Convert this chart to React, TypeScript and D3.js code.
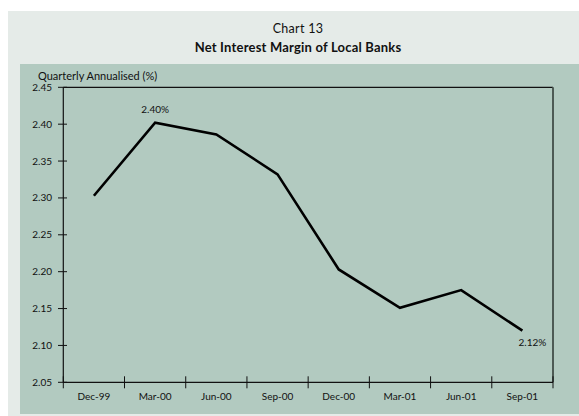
import React from "react";
import * as d3 from "d3";

const categories = ["Dec-99", "Mar-00", "Jun-00", "Sep-00", "Dec-00", "Mar-01", "Jun-01", "Sep-01"];
const values = [2.303, 2.402, 2.386, 2.332, 2.203, 2.151, 2.175, 2.12];
const yTicks = [2.05, 2.1, 2.15, 2.2, 2.25, 2.3, 2.35, 2.4, 2.45];
const annotations = [
  { index: 1, text: "2.40%" },
  { index: 7, text: "2.12%" },
];

const W = 579;
const H = 416;
const plot = { left: 63.3, right: 553, top: 87.3, bottom: 382.3 };
const FONT = "Lato, 'Open Sans', sans-serif";

export default function App() {
  const x = d3.scaleBand<string>().domain(categories).range([plot.left, plot.right]).padding(0);
  const y = d3.scaleLinear().domain([2.05, 2.45]).range([plot.bottom, plot.top]);
  const line = d3
    .line<number>()
    .x((_, i) => (x(categories[i]) as number) + x.bandwidth() / 2)
    .y((d) => y(d));

  const boundaries = categories.map((c) => x(c) as number).concat([plot.right]);

  return (
    <svg
      width={W}
      height={H}
      style={{ position: "absolute", left: 0, top: 0, display: "block" }}
      fontFamily={FONT}
    >
      <rect x={0} y={0} width={W} height={H} fill="#ffffff" />
      <rect x={8} y={11} width={W - 8} height={H - 11} fill="#e5ebe8" />
      <rect x={20} y={64} width={W - 20} height={350} fill="#b2cac0" />

      <text x={298} y={33} textAnchor="middle" fontSize={12.5} fill="#111" letterSpacing={0.3}>
        Chart 13
      </text>
      <text x={298} y={52} textAnchor="middle" fontSize={13} fontWeight="bold" fill="#111" letterSpacing={0.2}>
        Net Interest Margin of Local Banks
      </text>

      <text x={38} y={80} fontSize={11} fill="#111">
        Quarterly Annualised (%)
      </text>

      {/* frame */}
      <line x1={plot.left} x2={plot.right} y1={plot.top} y2={plot.top} stroke="#111" strokeWidth={1.2} />
      <line x1={plot.right} x2={plot.right} y1={plot.top} y2={plot.bottom} stroke="#4d5a54" strokeWidth={2} />
      <line x1={plot.left} x2={plot.left} y1={plot.top} y2={plot.bottom} stroke="#111" strokeWidth={1.2} />
      <line x1={plot.left} x2={plot.right} y1={plot.bottom} y2={plot.bottom} stroke="#111" strokeWidth={1.2} />

      {/* y ticks */}
      {yTicks.map((t) => (
        <g key={t}>
          <line x1={58} x2={67} y1={y(t)} y2={y(t)} stroke="#111" strokeWidth={1} />
          <text x={52} y={y(t) + 3.5} textAnchor="end" fontSize={10} fill="#111">
            {t.toFixed(2)}
          </text>
        </g>
      ))}

      {/* x ticks */}
      {boundaries.map((b, i) => (
        <line key={i} x1={b} x2={b} y1={plot.bottom - 6} y2={plot.bottom + 6} stroke="#111" strokeWidth={1} />
      ))}
      {categories.map((c) => (
        <text
          key={c}
          x={(x(c) as number) + x.bandwidth() / 2}
          y={plot.bottom + 18}
          textAnchor="middle"
          fontSize={10}
          fill="#111"
        >
          {c}
        </text>
      ))}

      <path d={line(values) || ""} fill="none" stroke="#000" strokeWidth={2.6} strokeLinejoin="miter" />

      {annotations.map((a) => (
        <text
          key={a.text}
          x={(x(categories[a.index]) as number) + x.bandwidth() / 2 + (a.index === 7 ? 10 : 0)}
          y={a.index === 7 ? y(values[a.index]) + 15 : y(values[a.index]) - 10}
          textAnchor="middle"
          fontSize={10}
          fill="#111"
        >
          {a.text}
        </text>
      ))}
    </svg>
  );
}
